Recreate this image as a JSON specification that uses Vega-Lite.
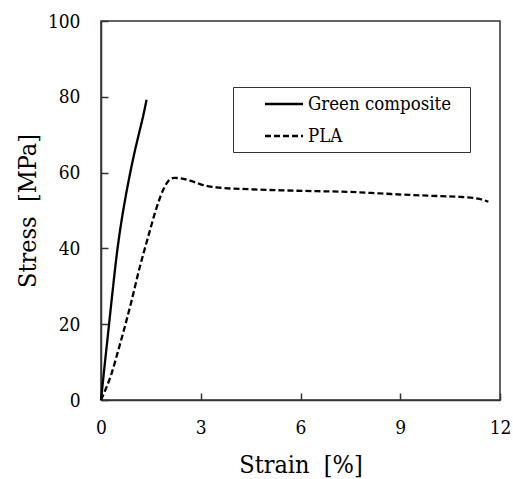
{
  "$schema": "https://vega.github.io/schema/vega-lite/v6.json",
  "width": 399,
  "height": 379,
  "autosize": {"type": "none"},
  "padding": {"left": 101, "top": 21, "right": 13, "bottom": 79},
  "background": "white",
  "config": {
    "font": "DejaVu Serif Condensed, DejaVu Serif",
    "view": {"stroke": "#333", "strokeWidth": 1.5},
    "axis": {
      "grid": false,
      "domainColor": "#333",
      "domainWidth": 1.5,
      "tickColor": "#333",
      "tickWidth": 1.5,
      "tickSize": -7,
      "labelFont": "DejaVu Serif Condensed, DejaVu Serif",
      "labelFontSize": 19,
      "labelColor": "black",
      "labelFlush": false,
      "titleFont": "DejaVu Serif Condensed, DejaVu Serif",
      "titleFontSize": 25,
      "titleFontWeight": "normal",
      "titleColor": "black"
    },
    "legend": {
      "labelFont": "DejaVu Serif Condensed, DejaVu Serif",
      "labelFontSize": 18.5,
      "labelColor": "black",
      "labelLimit": 400
    }
  },
  "data": {
    "values": [
      {"series": "Green composite", "strain": 0, "stress": 0},
      {"series": "Green composite", "strain": 0.12, "stress": 10},
      {"series": "Green composite", "strain": 0.24, "stress": 19.8},
      {"series": "Green composite", "strain": 0.36, "stress": 29.6},
      {"series": "Green composite", "strain": 0.48, "stress": 38.8},
      {"series": "Green composite", "strain": 0.6, "stress": 46.3},
      {"series": "Green composite", "strain": 0.72, "stress": 52.6},
      {"series": "Green composite", "strain": 0.85, "stress": 58.7},
      {"series": "Green composite", "strain": 1.0, "stress": 65},
      {"series": "Green composite", "strain": 1.15, "stress": 70.6},
      {"series": "Green composite", "strain": 1.27, "stress": 75},
      {"series": "Green composite", "strain": 1.37, "stress": 79.2},
      {"series": "PLA", "strain": 0, "stress": 0},
      {"series": "PLA", "strain": 0.1, "stress": 2},
      {"series": "PLA", "strain": 0.3, "stress": 6.5},
      {"series": "PLA", "strain": 0.5, "stress": 12.5},
      {"series": "PLA", "strain": 0.7, "stress": 18.8},
      {"series": "PLA", "strain": 0.9, "stress": 25.5},
      {"series": "PLA", "strain": 1.15, "stress": 34.5},
      {"series": "PLA", "strain": 1.4, "stress": 42.5},
      {"series": "PLA", "strain": 1.7, "stress": 51.5},
      {"series": "PLA", "strain": 1.9, "stress": 56},
      {"series": "PLA", "strain": 2.05, "stress": 58},
      {"series": "PLA", "strain": 2.2, "stress": 58.6},
      {"series": "PLA", "strain": 2.4, "stress": 58.5},
      {"series": "PLA", "strain": 2.7, "stress": 57.8},
      {"series": "PLA", "strain": 3.0, "stress": 56.9},
      {"series": "PLA", "strain": 3.3, "stress": 56.3},
      {"series": "PLA", "strain": 3.6, "stress": 56},
      {"series": "PLA", "strain": 4.5, "stress": 55.6},
      {"series": "PLA", "strain": 5.5, "stress": 55.3},
      {"series": "PLA", "strain": 6.5, "stress": 55.1},
      {"series": "PLA", "strain": 7.5, "stress": 54.9},
      {"series": "PLA", "strain": 8.4, "stress": 54.5},
      {"series": "PLA", "strain": 9.3, "stress": 54.1},
      {"series": "PLA", "strain": 10.2, "stress": 53.8},
      {"series": "PLA", "strain": 10.8, "stress": 53.6},
      {"series": "PLA", "strain": 11.2, "stress": 53.3},
      {"series": "PLA", "strain": 11.45, "stress": 52.9},
      {"series": "PLA", "strain": 11.65, "stress": 52.3}
    ]
  },
  "mark": {"type": "line", "strokeWidth": 2.3, "color": "black", "interpolate": "monotone"},
  "encoding": {
    "x": {
      "field": "strain",
      "type": "quantitative",
      "scale": {"domain": [0, 12], "nice": false},
      "axis": {
        "title": "Strain \u00a0[%]",
        "values": [0, 3, 6, 9, 12],
        "labelPadding": 25,
        "titleY": 72,
        "titleBaseline": "alphabetic"
      }
    },
    "y": {
      "field": "stress",
      "type": "quantitative",
      "scale": {"domain": [0, 100], "nice": false},
      "axis": {
        "title": "Stress \u00a0[MPa]",
        "values": [0, 20, 40, 60, 80, 100],
        "labelPadding": 28,
        "titleX": -66,
        "titleBaseline": "alphabetic"
      }
    },
    "strokeDash": {
      "field": "series",
      "type": "nominal",
      "scale": {"domain": ["Green composite", "PLA"], "range": [[1, 0], [6, 3]]},
      "legend": {
        "title": null,
        "orient": "none",
        "legendX": 132,
        "legendY": 66,
        "strokeColor": "#333",
        "fillColor": "white",
        "padding": 6,
        "symbolOffset": 34,
        "symbolType": "M-2,0H2",
        "symbolSize": 361,
        "symbolStrokeWidth": 2.3,
        "symbolStrokeColor": "black",
        "labelOffset": 13,
        "rowPadding": 11,
        "labelExpr": "datum.label + '\u2800'"
      }
    }
  }
}
